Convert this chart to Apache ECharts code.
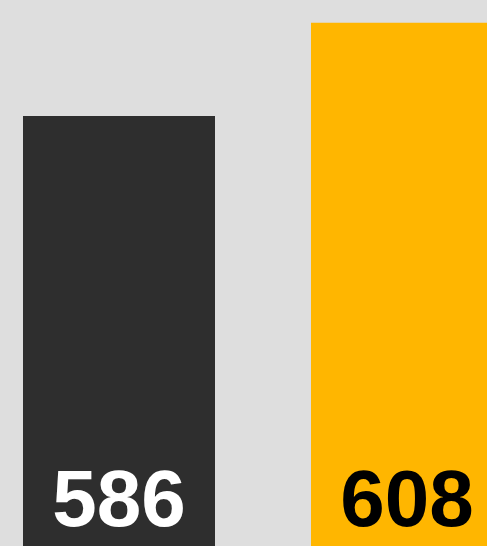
<!DOCTYPE html>
<html>
<head>
<meta charset="utf-8">
<style>
  html, body { margin: 0; padding: 0; background: #dedede; }
  #chart { width: 487px; height: 546px; }
</style>
<script src="https://cdn.jsdelivr.net/npm/echarts@6/dist/echarts.min.js"></script>
</head>
<body>
<div id="chart"></div>
<script>
// Two-bar comparison
const categories = ['A', 'B'];
const values = [586, 608];
const barColors = ['#2e2e2e', '#ffb600'];
const labelColors = ['#ffffff', '#000000'];

const chart = echarts.init(document.getElementById('chart'));

// Bars sit at positions 0 and 1 on a numeric x axis so the second bar can run
// off the right edge of the canvas.
chart.setOption({
  backgroundColor: '#dedede',
  animation: false,
  grid: { left: 0, right: 0, top: 0, bottom: 0 },
  xAxis: {
    type: 'value',
    min: -0.4132,
    max: 1.2778,
    show: false
  },
  yAxis: {
    type: 'value',
    min: 484.3,
    max: 613.4,
    show: false
  },
  series: [{
    type: 'bar',
    barWidth: 192,
    data: values.map((v, i) => ({
      name: categories[i],
      value: [i, v],
      itemStyle: { color: barColors[i] },
      label: { color: labelColors[i] }
    })),
    label: {
      show: true,
      position: 'insideBottom',
      distance: 2,
      fontFamily: 'Liberation Sans',
      fontWeight: 'bold',
      fontSize: 80,
      formatter: p => String(p.value[1])
    }
  }]
});
</script>
</body>
</html>
